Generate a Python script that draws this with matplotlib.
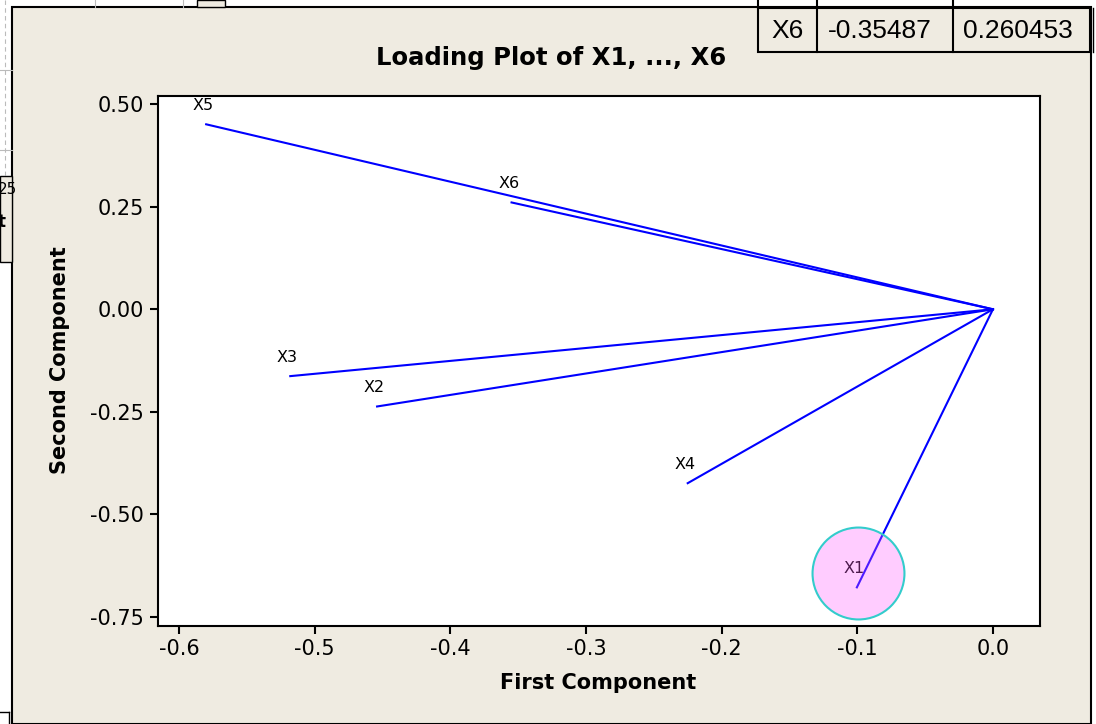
import matplotlib
matplotlib.use("Agg")
import matplotlib.pyplot as plt
from matplotlib.patches import Rectangle
from matplotlib.lines import Line2D

variables = ["X1", "X2", "X3", "X4", "X5", "X6"]
pc1 = [-0.1003, -0.454, -0.518, -0.225, -0.580, -0.35487]
pc2 = [-0.678, -0.237, -0.163, -0.424, 0.451, 0.260453]
xticks = [-0.6, -0.5, -0.4, -0.3, -0.2, -0.1, 0.0]
yticks = [0.50, 0.25, 0.00, -0.25, -0.50, -0.75]
table_row = ["X6", "-0.35487", "0.260453"]
highlight = ("X1", -0.0996, -0.644)

W, H = 1096, 724
fig = plt.figure(figsize=(W / 100, H / 100), dpi=100, facecolor="white")

def fx(px):
    return px / W

def fy(py):
    return 1 - py / H

beige = "#efebe1"
# graph window background
fig.patches.append(Rectangle((fx(12), fy(724)), fx(1091) - fx(12), fy(7) - fy(724),
                             transform=fig.transFigure, facecolor=beige,
                             edgecolor="black", linewidth=1.5, zorder=-5))

# background UI bits (spreadsheet remnants)
def fline(x0, y0, x1, y1, **kw):
    fig.add_artist(Line2D([fx(x0), fx(x1)], [fy(y0), fy(y1)], transform=fig.transFigure, **kw))

for xv in [95, 183]:
    fline(xv, 0, xv, 7, color="#bbbbbb", lw=0.8, zorder=-4)
fig.patches.append(Rectangle((fx(197), fy(7)), fx(225) - fx(197), fy(0) - fy(7),
                             transform=fig.transFigure, facecolor=beige,
                             edgecolor="black", linewidth=1, zorder=-4))
fline(5, 0, 5, 175, color="#bbbbbb", lw=0.8, ls=(0, (4, 3)), zorder=-4)
for yv in [70, 150]:
    fline(0, yv, 12, yv, color="#bbbbbb", lw=0.8, zorder=-4)
fig.patches.append(Rectangle((fx(0), fy(262)), fx(12), fy(176) - fy(262),
                             transform=fig.transFigure, facecolor=beige,
                             edgecolor="black", linewidth=1, zorder=-4))
fig.text(fx(-2), fy(190), "25", fontsize=11, ha="left", va="center", color="black")
fig.text(fx(-2), fy(222), "t", fontsize=12, fontweight="bold", ha="left", va="center")
fline(0, 712, 9, 712, color="black", lw=1, zorder=-4)
fline(9, 712, 9, 724, color="black", lw=1, zorder=-4)

# axes
ax = fig.add_axes([fx(158), fy(625.5), fx(1040) - fx(158), fy(96) - fy(625.5)])
ax.set_zorder(1)
ax.set_facecolor("white")
for sp in ax.spines.values():
    sp.set_linewidth(1.5)
    sp.set_color("black")
ax.set_xlim(-0.6155, 0.0347)
ax.set_ylim(-0.771, 0.52)
ax.set_xticks(xticks)
ax.set_xticklabels([f"{v:.1f}" for v in xticks])
ax.set_yticks(yticks)
ax.set_yticklabels([f"{v:.2f}" for v in yticks])
ax.tick_params(direction="out", length=6, width=1.5, labelsize=15, pad=4)

for name, x, y in zip(variables, pc1, pc2):
    ax.plot([0, x], [0, y], color="#0000ff", lw=1.5, zorder=2)
    ax.annotate(name, (x, y), xytext=(-2, 13.5), textcoords="offset points",
                ha="center", va="center", fontsize=11.5, color="black", zorder=3)

ax.scatter([highlight[1]], [highlight[2]], s=4380, facecolor=(1, 0.35, 1, 0.3),
           edgecolor="#33cccc", linewidth=1.5, zorder=4)

fig.text(fx(551), fy(58), "Loading Plot of X1, ..., X6", fontsize=17.5, fontweight="bold",
         ha="center", va="center")
fig.text(fx(598), fy(683), "First Component", fontsize=15, fontweight="bold",
         ha="center", va="center")
fig.text(fx(60), fy(360), "Second Component", fontsize=15, fontweight="bold",
         ha="center", va="center", rotation=90)

# overlaid table fragment (top right)
fig.patches.append(Rectangle((fx(758), fy(52)), fx(1090) - fx(758), fy(8) - fy(52),
                             transform=fig.transFigure, facecolor=beige,
                             edgecolor="black", linewidth=1.5, zorder=5))
for xv in [817, 953]:
    fline(xv, 0, xv, 52, color="black", lw=1.5, zorder=6)
fline(758, 0, 758, 8, color="black", lw=1.5, zorder=6)
fline(1093, 8, 1093, 52, color="black", lw=1, zorder=6)
for txt, cx in zip(table_row, [788, 880, 1018]):
    fig.text(fx(cx), fy(31), txt, fontsize=19, family="Liberation Sans",
             ha="center", va="center", zorder=7)

fig.savefig("out.png", dpi=100, facecolor="white")
